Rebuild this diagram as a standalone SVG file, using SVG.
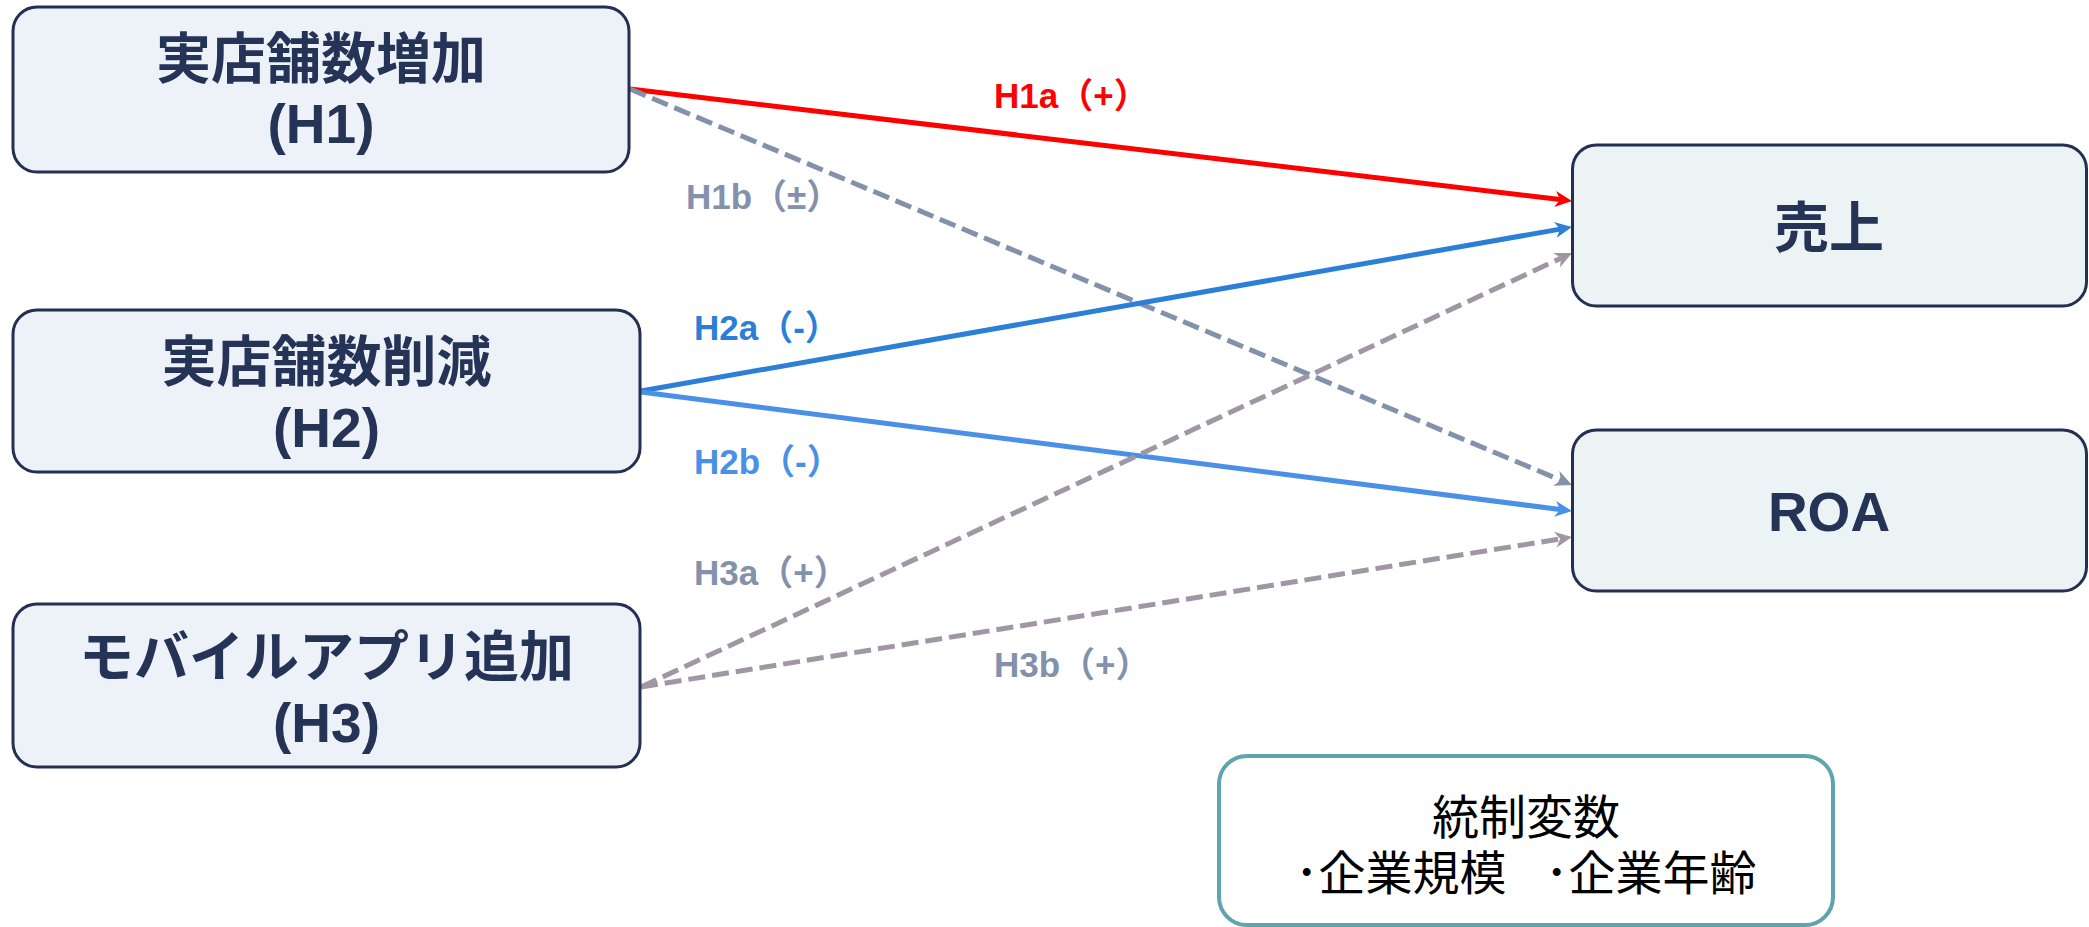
<svg xmlns="http://www.w3.org/2000/svg" width="2089" height="927" viewBox="0 0 2089 927">
<style>
.node rect{stroke:#252f52;stroke-width:3}
.src rect{fill:#edf2f9}
.dst rect{fill:#ebf3f5}
.nt{font-family:"Liberation Sans","Noto Sans CJK JP",sans-serif;font-weight:bold;font-size:55px;fill:#253356;text-anchor:middle}
.ctl rect{fill:#ffffff;stroke:#5fa4ae;stroke-width:4}
.ct{font-family:"Noto Sans CJK JP","Liberation Sans",sans-serif;font-size:47px;fill:#000000}
.lbl{font-family:"Liberation Sans","Noto Sans CJK JP",sans-serif;font-weight:bold;font-size:35px}
#connectors line{fill:none;stroke-width:5}
.dash{stroke-dasharray:17 7}
</style>
<defs>
<marker id="ar-red" markerUnits="userSpaceOnUse" viewBox="-6 -9 19 18" refX="0" refY="0" markerWidth="19" markerHeight="18" orient="auto"><path d="M12,0 L-5,-8 L0,0 L-5,8 Z" fill="#ff0000"/></marker>
<marker id="ar-blue" markerUnits="userSpaceOnUse" viewBox="-6 -9 19 18" refX="0" refY="0" markerWidth="19" markerHeight="18" orient="auto"><path d="M12,0 L-5,-8 L0,0 L-5,8 Z" fill="#2b7fd6"/></marker>
<marker id="ar-lblue" markerUnits="userSpaceOnUse" viewBox="-6 -9 19 18" refX="0" refY="0" markerWidth="19" markerHeight="18" orient="auto"><path d="M12,0 L-5,-8 L0,0 L-5,8 Z" fill="#4a90e6"/></marker>
<marker id="ar-slate" markerUnits="userSpaceOnUse" viewBox="-6 -9 19 18" refX="0" refY="0" markerWidth="19" markerHeight="18" orient="auto"><path d="M12,0 L-5,-8 L0,0 L-5,8 Z" fill="#8391ab"/></marker>
<marker id="ar-mauve" markerUnits="userSpaceOnUse" viewBox="-6 -9 19 18" refX="0" refY="0" markerWidth="19" markerHeight="18" orient="auto"><path d="M12,0 L-5,-8 L0,0 L-5,8 Z" fill="#a096a4"/></marker>
</defs>
<rect width="2089" height="927" fill="#ffffff"/>

<g id="connectors">
<line x1="630" y1="89" x2="1560.1" y2="199.6" stroke="#ff0000" marker-end="url(#ar-red)"/>
<line class="dash" x1="630" y1="89" x2="1560.9" y2="480.3" stroke="#8391ab" marker-end="url(#ar-slate)"/>
<line x1="641" y1="391" x2="1560.2" y2="229.1" stroke="#2b7fd6" marker-end="url(#ar-blue)"/>
<line x1="641" y1="392" x2="1560.1" y2="509.5" stroke="#4a90e6" marker-end="url(#ar-lblue)"/>
<line class="dash" x1="641" y1="687" x2="1561.1" y2="258.1" stroke="#a096a4" marker-end="url(#ar-mauve)"/>
<line class="dash" x1="641" y1="687" x2="1560.2" y2="538.9" stroke="#a096a4" marker-end="url(#ar-mauve)"/>
<text class="lbl" x="994" y="108" fill="#ff0000">H1a（+）</text>
<text class="lbl" x="686" y="209" fill="#8391ab">H1b（±）</text>
<text class="lbl" x="694" y="340" fill="#2b7fd6">H2a（-）</text>
<text class="lbl" x="694" y="474" fill="#4a90e6">H2b（-）</text>
<text class="lbl" x="694" y="585" fill="#8391ab">H3a（+）</text>
<text class="lbl" x="994" y="677" fill="#8391ab">H3b（+）</text>
</g>

<g id="node-h1" class="node src">
<rect x="13" y="7" width="616" height="165" rx="24"/>
<text class="nt" x="321" y="78">実店舗数増加</text>
<text class="nt" x="321" y="143">(H1)</text>
</g>
<g id="node-h2" class="node src">
<rect x="13" y="310" width="627" height="162" rx="24"/>
<text class="nt" x="326.5" y="381">実店舗数削減</text>
<text class="nt" x="326.5" y="447">(H2)</text>
</g>
<g id="node-h3" class="node src">
<rect x="13" y="604" width="627" height="163" rx="24"/>
<text class="nt" x="326.5" y="676">モバイルアプリ追加</text>
<text class="nt" x="326.5" y="742">(H3)</text>
</g>
<g id="node-sales" class="node dst">
<rect x="1572.5" y="145" width="514" height="161" rx="24"/>
<text class="nt" x="1829" y="247">売上</text>
</g>
<g id="node-roa" class="node dst">
<rect x="1572.5" y="430" width="514" height="161" rx="24"/>
<text class="nt" x="1829" y="531">ROA</text>
</g>
<g id="node-controls" class="ctl">
<rect x="1219" y="756" width="614" height="169" rx="28"/>
<text class="ct" x="1526" y="834" text-anchor="middle">統制変数</text>
<text class="ct" x="1295" y="890">･企業規模 <tspan dx="28">･企業年齢</tspan></text>
</g>
</svg>
